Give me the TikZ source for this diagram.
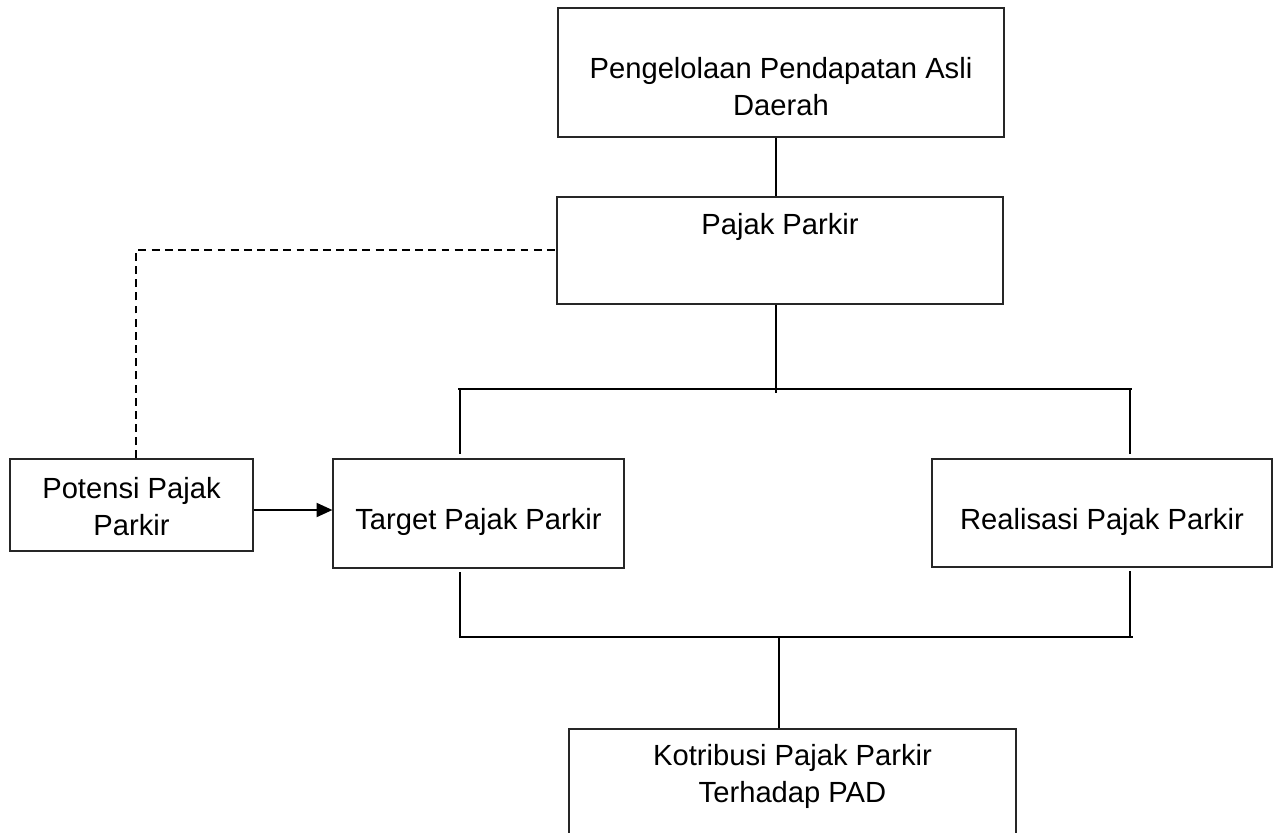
\documentclass[tikz,border=0pt]{standalone}
\usepackage{fontspec}
\setmainfont{Liberation Sans}
\usepackage{tikz}
\usetikzlibrary{calc,arrows.meta,positioning}

\begin{document}
\begin{tikzpicture}[x=0.02cm, y=-0.02cm, >={Triangle[length=9pt,width=8pt]},
  box/.style={draw=black!85, line width=0.7pt, inner sep=0pt, fill=white},
  lbl/.style={font=\fontsize{16.6}{21}\selectfont, align=center, inner sep=0pt},
  conn/.style={line width=1pt, black}]

\useasboundingbox (0,0) rectangle (1274,832);

% ---------------- 1. BOXES ----------------
\node[box, minimum width=8.92cm, minimum height=2.58cm] (pad) at (781,72.5) {};
\node[box, minimum width=8.92cm, minimum height=2.14cm] (pajak) at (780,250.5) {};
\node[box, minimum width=4.86cm, minimum height=1.84cm] (potensi) at (131.5,505) {};
\node[box, minimum width=5.82cm, minimum height=2.18cm] (target) at (478.5,513.5) {};
\node[box, minimum width=6.80cm, minimum height=2.16cm] (realisasi) at (1102,513) {};
% bottom box runs off the page
\node[box, minimum width=8.94cm, minimum height=2.82cm] (kontribusi) at (792.5,799.5) {};

% ---------------- 2. TEXTS ----------------
\node[lbl] (padText) at (781,87) {Pengelolaan Pendapatan Asli\\Daerah};
\node[lbl] (pajakText) at (780,227) {Pajak Parkir};
\node[lbl] (potensiText) at (131.5,507) {Potensi Pajak\\Parkir};
\node[lbl] (targetText) at (478.5,522) {Target Pajak Parkir};
\node[lbl] (realisasiText) at (1102,522) {Realisasi Pajak Parkir};
\node[lbl] (kontribusiText) at (792.5,776) {Kotribusi Pajak Parkir\\Terhadap PAD};

% ---------------- 3. JUNCTIONS ----------------
\coordinate (topJ) at (776,389);
\coordinate (topL) at (460,389);
\coordinate (topR) at (1130,389);
\coordinate (botJ) at (779,637);
\coordinate (botL) at (460,637);
\coordinate (botR) at (1130,637);
\coordinate (dashCorner) at (136,250);
\coordinate (arrowY) at (300,510);

% ---------------- 4. CONNECTORS ----------------
\draw[conn] (pad.south -| topJ) -- (pajak.north -| topJ);
\draw[conn] (pajak.south -| topJ) -- ([yshift=-2pt]topJ);
\draw[conn] ([xshift=-1pt]topL) -- ([xshift=1pt]topR);
\draw[conn] (topL) -- ([yshift=2.3pt]target.north -| topL);
\draw[conn] (topR) -- ([yshift=2.3pt]realisasi.north -| topR);

\draw[conn] ([yshift=-2pt]target.south -| botL) -- (botL) -- ([xshift=1.5pt]botR);
\draw[conn] ([yshift=-2pt]realisasi.south -| botR) -- (botR);
\draw[conn] (botJ) -- (kontribusi.north -| botJ);

% Potensi feeds target
\draw[conn, ->] (potensi.east |- arrowY) -- (target.west |- arrowY);

% dashed link to Pajak Parkir
\draw[conn, line width=0.9pt, dash pattern=on 4.5pt off 3pt]
  (potensi.north -| dashCorner) -- (dashCorner) -- (pajak.west |- dashCorner);

\end{tikzpicture}
\end{document}
